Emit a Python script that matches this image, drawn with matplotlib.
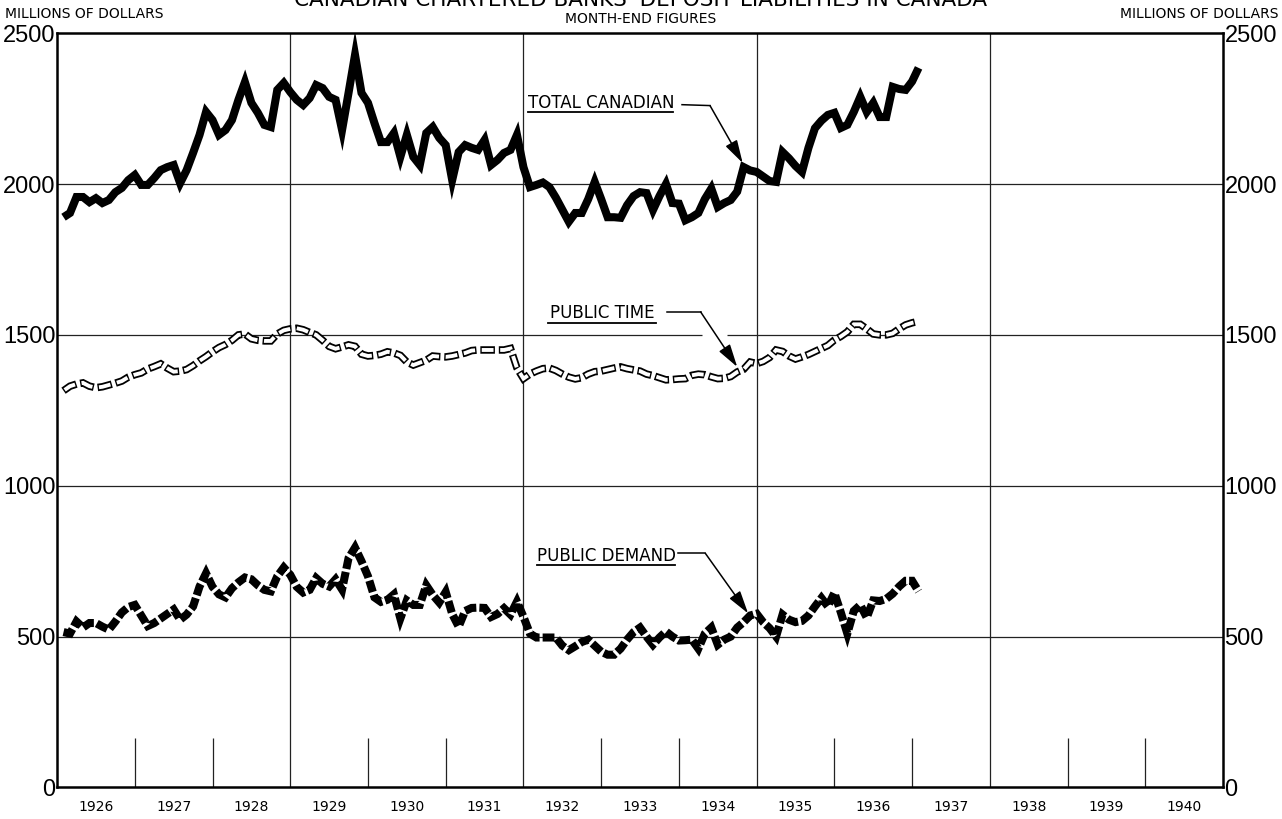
import numpy as np
import matplotlib
matplotlib.use('Agg')
import matplotlib.pyplot as plt

# month-end figures, Jan 1926 .. Jan 1937, millions of dollars
total_canadian = [
    1890, 1904, 1957, 1957, 1940, 1953, 1937, 1947, 1973, 1987, 2013, 2030,
    1997, 1997, 2020, 2046, 2056, 2063, 2003, 2046, 2103, 2163, 2239, 2212,
    2163, 2179, 2212, 2279, 2338, 2269, 2236, 2196, 2189, 2312, 2335, 2305,
    2279, 2262, 2285, 2328, 2318, 2289, 2279, 2179, 2302, 2428, 2302, 2269,
    2202, 2139, 2139, 2169, 2090, 2163, 2090, 2063, 2169, 2189, 2153, 2129,
    2013, 2106, 2129, 2120, 2113, 2146, 2063, 2080, 2103, 2113, 2163, 2056,
    1990, 1997, 2005, 1990, 1955, 1915, 1875, 1904, 1904, 1950, 2007, 1950,
    1890, 1890, 1888, 1930, 1960, 1973, 1970, 1914, 1960, 2000, 1937, 1935,
    1880, 1890, 1904, 1950, 1985, 1924, 1937, 1947, 1975, 2056, 2045, 2040,
    2025, 2010, 2007, 2106, 2085, 2060, 2040, 2120, 2185, 2210, 2229, 2236,
    2186, 2196, 2239, 2289, 2239, 2269, 2222, 2222, 2322, 2315, 2312, 2340,
    2385,
]
public_time = [
    1315, 1330, 1337, 1341, 1330, 1325, 1328, 1334, 1340, 1347, 1360, 1368,
    1374, 1387, 1395, 1404, 1390, 1378, 1380, 1385, 1398, 1414, 1428, 1444,
    1458, 1468, 1482, 1500, 1503, 1487, 1482, 1480, 1480, 1503, 1515, 1520,
    1522, 1517, 1508, 1500, 1482, 1462, 1454, 1460, 1467, 1462, 1436, 1430,
    1432, 1436, 1444, 1440, 1432, 1410, 1400, 1408, 1416, 1430, 1428, 1427,
    1430, 1435, 1440, 1448, 1450, 1450, 1450, 1450, 1450, 1455, 1390, 1355,
    1370, 1380, 1388, 1390, 1382, 1370, 1360, 1354, 1358, 1370, 1378, 1380,
    1385, 1390, 1394, 1388, 1384, 1380, 1370, 1365, 1358, 1351, 1352, 1354,
    1355, 1366, 1370, 1368, 1361, 1355, 1356, 1362, 1377, 1386, 1410, 1405,
    1412, 1425, 1450, 1445, 1430, 1420, 1427, 1435, 1445, 1455, 1465, 1483,
    1495, 1510, 1535, 1535, 1520, 1503, 1500, 1500, 1505, 1520, 1533, 1540,
    1545,
]
public_demand = [
    515, 510, 550, 530, 545, 545, 533, 523, 550, 580, 598, 605,
    570, 535, 545, 560, 575, 590, 556, 573, 600, 666, 710, 665,
    640, 630, 660, 680, 696, 690, 670, 655, 650, 700, 729, 705,
    665, 646, 655, 694, 675, 666, 690, 656, 760, 795, 750, 700,
    630, 615, 622, 640, 560, 620, 605, 605, 670, 638, 613, 648,
    575, 533, 585, 595, 596, 595, 565, 575, 594, 573, 616, 566,
    510, 497, 497, 497, 497, 470, 455, 468, 482, 490, 470, 450,
    440, 440, 460, 490, 515, 530, 500, 473, 497, 517, 500, 487,
    488, 490, 460, 510, 530, 473, 490, 500, 530, 548, 570, 576,
    548, 528, 500, 573, 556, 548, 552, 570, 600, 628, 600, 645,
    580, 510, 585, 605, 563, 620, 618, 625, 642, 666, 685, 685,
    650,
]

years = list(range(1926, 1941))
grid_years = [1929, 1932, 1935, 1938]
y_ticks = [0, 500, 1000, 1500, 2000, 2500]

plt.rcParams['lines.scale_dashes'] = False
plt.rcParams['font.family'] = ['DejaVu Sans']

x = 1926 + (np.arange(len(total_canadian)) + 1) / 12.0

fig = plt.figure(figsize=(12.82, 8.19), dpi=100)
ax = fig.add_axes([0.0445, 0.0385, 0.9095, 0.921])
ax.set_xlim(1926, 1941)
ax.set_ylim(0, 2500)

# grid
for v in [500, 1000, 2000]:
    ax.axhline(v, color='#222222', lw=0.9, zorder=1)
ax.hlines(1500, 1926, 1934.30, color='#222222', lw=0.9, zorder=1)
ax.hlines(1500, 1934.62, 1941, color='#222222', lw=0.9, zorder=1)
for yr in grid_years:
    ax.axvline(yr, color='#222222', lw=0.9, zorder=1)
short = [yr for yr in years[1:] if yr not in grid_years]
ax.vlines(short, 0, 165, color='#222222', lw=0.9, zorder=1)

# total canadian: heavy solid
ax.plot(x, total_canadian, color='black', lw=5.8, solid_joinstyle='miter',
        solid_capstyle='butt', zorder=3)

# public time: hollow dashes
ax.plot(x, public_time, color='black', lw=5.4, linestyle=(0, (10.5, 2.8)),
        dash_capstyle='butt', dash_joinstyle='miter', zorder=3)
ax.plot(x, public_time, color='white', lw=2.8, linestyle=(12.3, (8.5, 4.8)),
        dash_capstyle='butt', dash_joinstyle='miter', zorder=4)

# public demand: heavy dashes
ax.plot(x, public_demand, color='black', lw=5.8, linestyle=(0, (8.5, 2.2)),
        dash_capstyle='butt', dash_joinstyle='miter', zorder=3)

# labels with leader arrows
labels = [
    ('TOTAL CANADIAN', 1933.0, 2268, 2240, 1932.06, 1933.93,
     (1934.04, 2263), (1934.40, 2260), (1934.82, 2070)),
    ('PUBLIC TIME', 1933.01, 1571, 1541, 1932.32, 1933.70,
     (1933.85, 1576), (1934.28, 1576), (1934.75, 1394)),
    ('PUBLIC DEMAND', 1933.07, 768, 738, 1932.18, 1933.95,
     (1933.99, 776), (1934.34, 776), (1934.89, 577)),
]
for txt, tx, ty, uy, u0, u1, p0, p1, p2 in labels:
    ax.text(tx, ty, txt, ha='center', va='center', fontsize=12, zorder=5)
    ax.plot([u0, u1], [uy, uy], color='black', lw=1.3, zorder=5)
    ax.plot([p0[0], p1[0]], [p0[1], p1[1]], color='black', lw=1.1, zorder=5)
    ax.annotate('', xy=p2, xytext=p1,
                arrowprops=dict(arrowstyle='-|>,head_length=1.4,head_width=0.4',
                                color='black', lw=1.1, shrinkA=0, shrinkB=0),
                zorder=5)

# axes styling
for s in ax.spines.values():
    s.set_linewidth(1.8)
ax.set_yticks(y_ticks)
ax.set_yticklabels([str(v) for v in y_ticks])
ax.tick_params(axis='y', length=0, pad=1, labelsize=17,
               labelleft=True, labelright=True)
for lab in ax.get_yticklabels():
    lab.set_fontfamily(['Liberation Sans', 'DejaVu Sans'])
ax.set_xticks([yr + 0.5 for yr in years])
ax.set_xticklabels([str(yr) for yr in years])
ax.tick_params(axis='x', length=0, pad=9, labelsize=10)

fig.text(0.004, 0.983, 'MILLIONS OF DOLLARS', ha='left', va='center', fontsize=10)
fig.text(0.997, 0.983, 'MILLIONS OF DOLLARS', ha='right', va='center', fontsize=10)
fig.text(0.5, 0.977, 'MONTH-END FIGURES', ha='center', va='center', fontsize=10)
fig.text(0.5, 1 - 6 / 819, "CANADIAN CHARTERED BANKS' DEPOSIT LIABILITIES IN CANADA",
         ha='center', va='baseline', fontsize=15.5)

fig.savefig('out.png', dpi=100)
